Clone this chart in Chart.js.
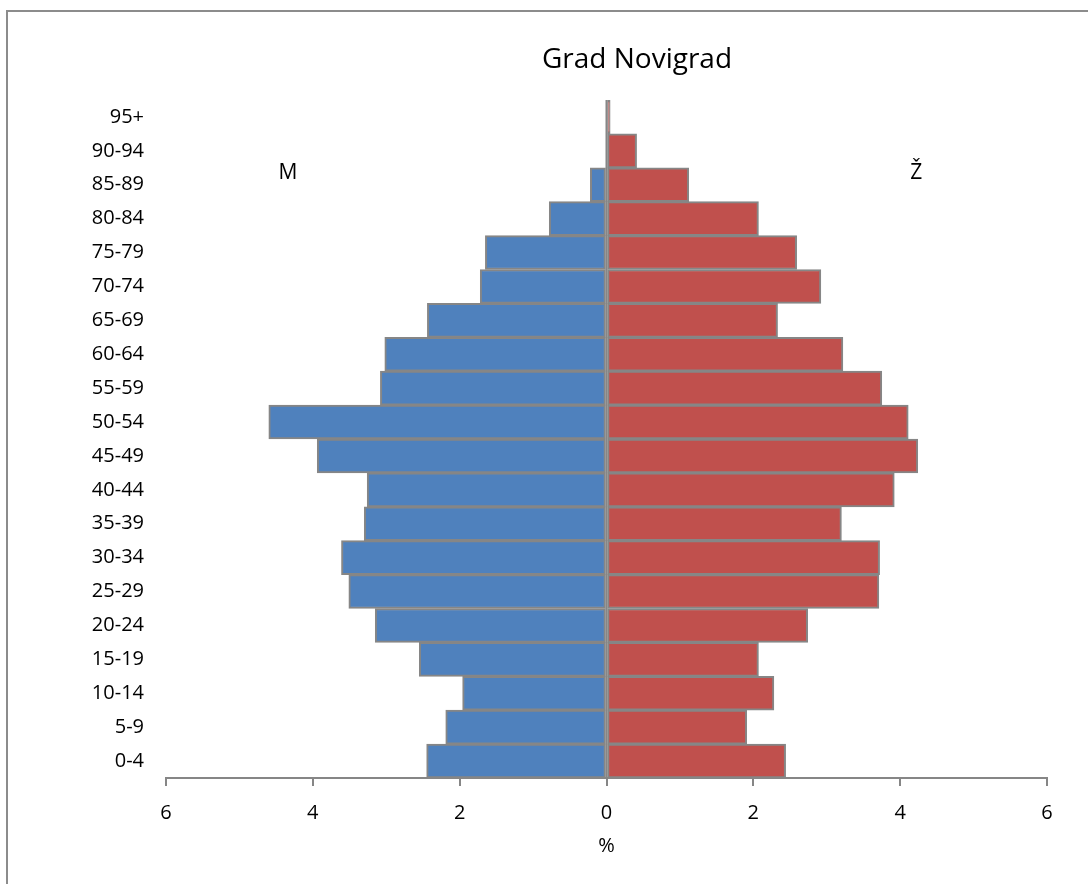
<!DOCTYPE html>
<html lang="hr">
<head>
    <meta charset="UTF-8">
    <title>Grad Novigrad</title>
    <script src="https://cdn.jsdelivr.net/npm/chart.js"></script>
    <style>
        body{ margin:0; background:#fff; }
        #okvir{
            position:absolute; left:6px; top:10px; width:1082px; height:874px;
            border-top:2px solid #8c8c8c; border-left:2px solid #8c8c8c;
        }
        #wrap{ position:absolute; left:0; top:0; width:1088px; height:884px; }
    </style>
</head>
<body>
<div id="okvir"></div>
<div id="wrap"><canvas id="piramida" width="1088" height="884"></canvas></div>
<script>
    // dobne skupine, od najmlađe prema najstarijoj
    const dobneSkupine = ['0-4','5-9','10-14','15-19','20-24','25-29','30-34','35-39','40-44','45-49',
                          '50-54','55-59','60-64','65-69','70-74','75-79','80-84','85-89','90-94','95+'];
    // muškarci (%), crtaju se lijevo
    const muski = [2.45, 2.19, 1.96, 2.55, 3.15, 3.51, 3.61, 3.30, 3.26, 3.94,
                   4.60, 3.08, 3.02, 2.44, 1.72, 1.65, 0.78, 0.22, 0, 0];
    // žene (%), crtaju se desno
    const zene = [2.44, 1.91, 2.28, 2.07, 2.74, 3.71, 3.72, 3.20, 3.92, 4.24,
                  4.11, 3.75, 3.22, 2.33, 2.92, 2.59, 2.07, 1.12, 0.41, 0.05];
    const xTicks = [-6, -4, -2, 0, 2, 4, 6];
    const naslov = 'Grad Novigrad';

    const siva = '#868686';
    const font = "'Open Sans', 'Noto Sans', sans-serif";

    // naslov, oznake M i Ž unutar grafa + srednja linija na nuli
    const oznake = {
        id: 'oznake',
        afterDatasetsDraw(chart){
            const c = chart.ctx, x = chart.scales.x, y = chart.scales.y, a = chart.chartArea;
            c.save();
            const x0 = x.getPixelForValue(0);
            c.strokeStyle = siva;
            c.lineWidth = 2;
            c.beginPath();
            c.moveTo(x0, a.top);
            c.lineTo(x0, a.bottom);
            c.stroke();

            c.fillStyle = '#000';
            c.textAlign = 'center';
            c.textBaseline = 'middle';
            c.font = '28px ' + font;
            c.fillText(naslov, 637, 60);

            c.font = '21px ' + font;
            c.fillText('M', x.getPixelForValue(-4.34), y.getPixelForValue(17.35));
            c.fillText('Ž', x.getPixelForValue(4.22), y.getPixelForValue(17.35));
            c.restore();
        }
    };

    new Chart(document.getElementById('piramida'), {
        type: 'bar',
        data: {
            labels: dobneSkupine,
            datasets: [{
                label: 'M',
                data: muski.map(v => -v),
                backgroundColor: '#4f81bd',
                borderColor: siva,
                borderWidth: 2,
                borderSkipped: false
            },{
                label: 'Ž',
                data: zene,
                backgroundColor: '#c0504d',
                borderColor: siva,
                borderWidth: 2,
                borderSkipped: false
            }]
        },
        options: {
            indexAxis: 'y',
            responsive: false,
            animation: false,
            barPercentage: 1,
            categoryPercentage: 1,
            layout: { padding: { left: 0, right: 41, top: 100, bottom: 0 } },
            plugins: {
                legend: { display: false },
                tooltip: { enabled: false },
                title: { display: false }
            },
            scales: {
                x: {
                    stacked: true,
                    min: -6, max: 6,
                    afterBuildTicks: s => { s.ticks = xTicks.map(v => ({ value: v })); },
                    afterFit: s => { s.height = 106; },
                    ticks: {
                        color: '#000',
                        font: { family: font, size: 20 },
                        padding: 15,
                        maxRotation: 0,
                        callback: v => Math.abs(v)
                    },
                    grid: { drawOnChartArea: false, drawTicks: true, tickLength: 8, color: siva, lineWidth: 2 },
                    border: { display: true, color: siva, width: 2 },
                    title: {
                        display: true, text: '%', color: '#000',
                        font: { family: font, size: 20 },
                        padding: { top: 26, bottom: 26 }
                    }
                },
                y: {
                    stacked: true,
                    reverse: true,
                    afterFit: s => { s.width = 166; },
                    ticks: {
                        color: '#000',
                        font: { family: font, size: 20 },
                        padding: 22
                    },
                    grid: { display: false, drawTicks: false },
                    border: { display: false }
                }
            }
        },
        plugins: [oznake]
    });
</script>
</body>
</html>
